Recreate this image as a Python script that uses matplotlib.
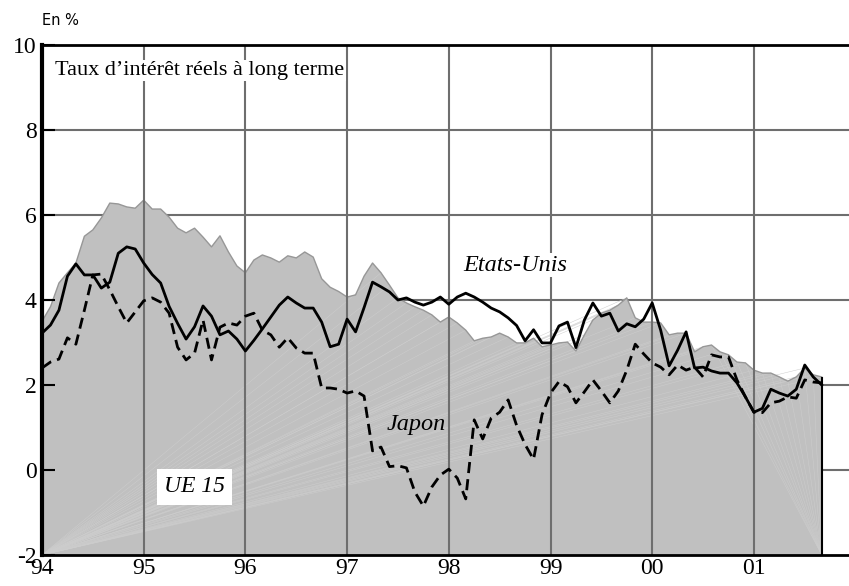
import numpy as np
import matplotlib
matplotlib.use("Agg")
import matplotlib.pyplot as plt

# Données mensuelles, janvier 1994 -> septembre 2001 (en %)
annees = ['94', '95', '96', '97', '98', '99', '00', '01']

ue15 = [3.5, 3.84, 4.4, 4.64, 4.87, 5.5, 5.65, 5.93, 6.28, 6.26, 6.19, 6.16,
        6.35, 6.14, 6.14, 5.95, 5.69, 5.58, 5.69, 5.48, 5.25, 5.51, 5.13, 4.8,
        4.64, 4.94, 5.06, 4.99, 4.89, 5.04, 4.99, 5.13, 5.01, 4.5, 4.3, 4.2,
        4.07, 4.12, 4.56, 4.87, 4.64, 4.35, 4.05, 3.93, 3.84, 3.76, 3.65, 3.48,
        3.6, 3.46, 3.29, 3.04, 3.1, 3.13, 3.22, 3.13, 2.99, 2.99, 3.1, 2.9,
        2.94, 2.99, 3.01, 2.8, 3.18, 3.53, 3.69, 3.76, 3.88, 4.05, 3.58, 3.48,
        3.48, 3.46, 3.18, 3.22, 3.22, 2.78, 2.9, 2.94, 2.78, 2.71, 2.54, 2.52,
        2.35, 2.28, 2.28, 2.19, 2.09, 2.19, 2.4, 2.24, 2.19]

etats_unis = [3.22, 3.41, 3.76, 4.56, 4.85, 4.59, 4.59, 4.28, 4.42, 5.1, 5.25, 5.2,
              4.87, 4.6, 4.4, 3.85, 3.45, 3.08, 3.37, 3.86, 3.62, 3.18, 3.27, 3.08,
              2.8, 3.05, 3.32, 3.6, 3.88, 4.07, 3.93, 3.81, 3.81, 3.48, 2.9, 2.96,
              3.55, 3.25, 3.82, 4.42, 4.31, 4.19, 4.0, 4.05, 3.95, 3.88, 3.95, 4.07,
              3.9, 4.07, 4.16, 4.07, 3.95, 3.81, 3.72, 3.58, 3.4, 3.04, 3.3, 2.99,
              2.99, 3.39, 3.48, 2.88, 3.53, 3.93, 3.62, 3.69, 3.27, 3.44, 3.37, 3.55,
              3.93, 3.29, 2.45, 2.82, 3.25, 2.4, 2.42, 2.33, 2.28, 2.28, 2.05, 1.72,
              1.36, 1.45, 1.9, 1.81, 1.74, 1.9, 2.47, 2.19, 2.0]

japon = [2.4, 2.54, 2.61, 3.11, 2.96, 3.76, 4.59, 4.61, 4.24, 3.84, 3.46, 3.72,
         3.98, 4.05, 3.95, 3.69, 2.89, 2.59, 2.75, 3.53, 2.59, 3.36, 3.46, 3.41,
         3.62, 3.69, 3.29, 3.18, 2.89, 3.11, 2.87, 2.75, 2.75, 1.93, 1.93, 1.9,
         1.81, 1.86, 1.74, 0.45, 0.54, 0.08, 0.1, 0.05, -0.52, -0.85, -0.4, -0.12,
         0.02, -0.19, -0.68, 1.18, 0.73, 1.22, 1.36, 1.65, 1.05, 0.6, 0.25, 1.3,
         1.81, 2.08, 1.96, 1.58, 1.84, 2.12, 1.86, 1.58, 1.86, 2.35, 2.96, 2.73,
         2.52, 2.42, 2.24, 2.47, 2.35, 2.42, 2.19, 2.71, 2.66, 2.66, 2.12, 1.72,
         1.36, 1.35, 1.58, 1.62, 1.72, 1.69, 2.12, 2.07, 2.05]

t = 1994 + np.arange(len(ue15)) / 12

plt.rcParams['font.family'] = ['Liberation Serif', 'DejaVu Serif']

fig = plt.figure(figsize=(8.49, 5.86), dpi=100)
ax = fig.add_axes([42 / 849, 1 - 555 / 586, 1 - 42 / 849, 510 / 586])
ax.set_xlim(1994, 1994 + 807 / 101.7)
ax.set_ylim(-2, 10)

gris = '#6e6e6e'
# grille horizontale sous la zone grisée
for y in [0, 2, 4, 6, 8]:
    ax.axhline(y, color=gris, lw=1.5, zorder=0.5)

# zone UE 15
ax.fill_between(t, ue15, -2, facecolor='#c0c0c0', edgecolor='none', zorder=1)
ax.plot(t, ue15, color='#979797', lw=1, zorder=1.3)
# traits clairs en éventail (artefacts du remplissage d'origine)
for xi, yi in zip(t[40:], ue15[40:]):
    ax.plot([t[0], xi], [-2, yi], color='#cdcdcd', lw=0.35, zorder=1.1)
for xi, yi in zip(t[-14:-1], ue15[-14:-1]):
    ax.plot([t[-1], xi], [-2, yi], color='#cdcdcd', lw=0.35, zorder=1.1)
ax.vlines(t[-1], -2, ue15[-1], color='black', lw=1.5, zorder=3)

# grille verticale au-dessus
for x in range(1995, 2002):
    ax.axvline(x, color=gris, lw=1.5, zorder=2)

ax.plot(t, etats_unis, color='black', lw=2, zorder=3)
ax.plot(t, japon, color='black', lw=2, ls=(0, (4, 2.2)), zorder=3)

ax.spines['right'].set_visible(False)
ax.spines['left'].set_linewidth(3)
ax.spines['top'].set_linewidth(2)
ax.spines['bottom'].set_linewidth(2)
for s in ax.spines.values():
    s.set_zorder(5)

ax.set_yticks(range(-2, 11, 2))
ax.set_yticklabels([str(v) for v in range(-2, 11, 2)])
ax.set_xticks(range(1994, 2002))
ax.set_xticklabels(annees)
ax.tick_params(axis='y', direction='in', length=9, width=1.5, labelsize=17, pad=4)
ax.tick_params(axis='x', length=0, labelsize=17, pad=2)

ax.text(1994.13, 9.62, "Taux d’intérêt réels à long terme", fontsize=16,
        ha='left', va='top', zorder=4,
        bbox=dict(facecolor='white', edgecolor='none', pad=1))
ax.text(1998.65, 4.82, 'Etats-Unis', fontsize=17.5, style='italic',
        ha='center', va='center', zorder=4,
        bbox=dict(facecolor='white', edgecolor='none', pad=1))
ax.text(1997.68, 1.06, 'Japon', fontsize=17.5, style='italic',
        ha='center', va='center', zorder=4)
ax.text(1995.5, -0.4, 'UE 15', fontsize=17, style='italic',
        ha='center', va='center', zorder=4,
        bbox=dict(facecolor='white', edgecolor='none', boxstyle='square,pad=0.3'))

fig.text(42 / 849, 1 - 25 / 586, 'En %', family='DejaVu Sans', fontsize=10.5,
         va='baseline', ha='left')

plt.savefig('out.png', dpi=100)
